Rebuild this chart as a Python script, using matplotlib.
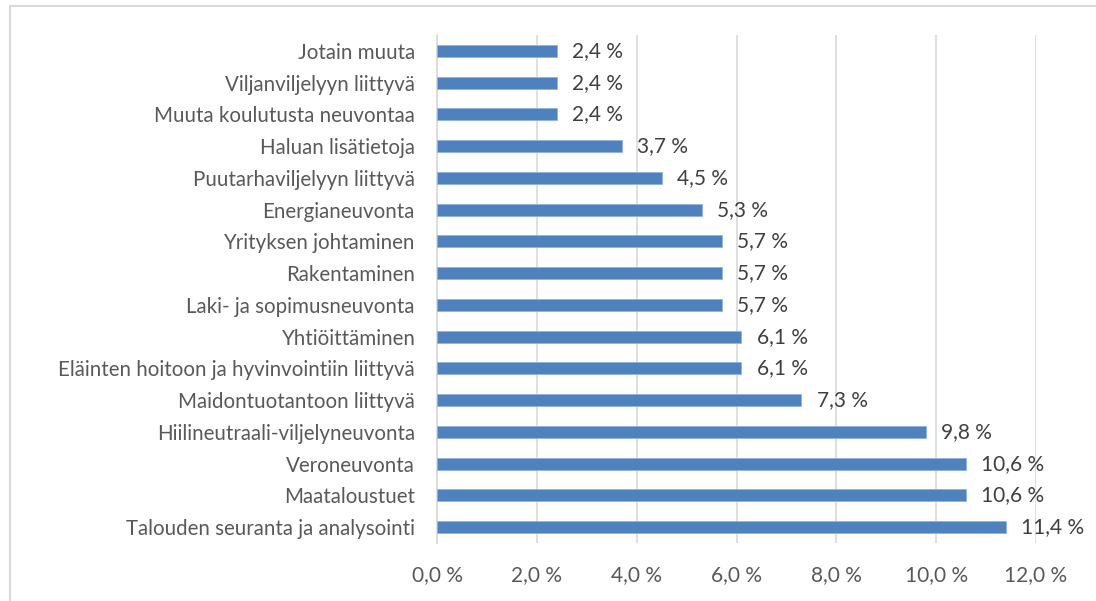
import matplotlib
matplotlib.use("Agg")
import matplotlib.pyplot as plt
from matplotlib.patches import Rectangle
from matplotlib.ticker import FuncFormatter

categories = [
    "Jotain muuta",
    "Viljanviljelyyn liittyvä",
    "Muuta koulutusta neuvontaa",
    "Haluan lisätietoja",
    "Puutarhaviljelyyn liittyvä",
    "Energianeuvonta",
    "Yrityksen johtaminen",
    "Rakentaminen",
    "Laki- ja sopimusneuvonta",
    "Yhtiöittäminen",
    "Eläinten hoitoon ja hyvinvointiin liittyvä",
    "Maidontuotantoon liittyvä",
    "Hiilineutraali-viljelyneuvonta",
    "Veroneuvonta",
    "Maataloustuet",
    "Talouden seuranta ja analysointi",
]
values = [2.4, 2.4, 2.4, 3.7, 4.5, 5.3, 5.7, 5.7, 5.7, 6.1, 6.1, 7.3, 9.8, 10.6, 10.6, 11.4]
xticks = [0, 2, 4, 6, 8, 10, 12]

plt.rcParams['font.family'] = ['Lato', 'DejaVu Sans']

W, H = 1096, 601
fig = plt.figure(figsize=(W / 100, H / 100), dpi=100)
fig.patch.set_facecolor('white')

# chart border (extends past right and bottom edges)
fig.patches.append(Rectangle((10 / W, -0.2), 1.2, 1.2 - 6 / H, transform=fig.transFigure,
                             fill=False, edgecolor='#D9D9D9', linewidth=1.5))

left, right, top, bottom = 437, 1036, 35, 543
ax = fig.add_axes([left / W, 1 - bottom / H, (right - left) / W, (bottom - top) / H])

pos = list(range(len(categories)))
ax.barh(pos, values, height=0.385, color='#4F81BD', edgecolor='#8EB4E3', linewidth=0.6, zorder=3)
ax.set_ylim(len(categories) - 0.5, -0.5)
ax.set_xlim(0, 12)
ax.set_yticks(pos)
ax.set_yticklabels(categories, fontsize=14.8, color='#595959')
ax.set_xticks(xticks)
ax.xaxis.set_major_formatter(FuncFormatter(lambda v, p: f"{v:.1f} %".replace('.', ',')))
ax.tick_params(axis='x', labelsize=15, labelcolor='#595959', length=0, pad=16)
ax.tick_params(axis='y', length=0, pad=16)

for s in ['top', 'right', 'bottom']:
    ax.spines[s].set_visible(False)
ax.spines['left'].set_color('#D9D9D9')
ax.spines['left'].set_linewidth(1.2)
ax.grid(axis='x', color='#D9D9D9', linewidth=1.2, zorder=0)
ax.set_axisbelow(True)

for p, v in zip(pos, values):
    ax.annotate(f"{v:.1f} %".replace('.', ','), (v, p), xytext=(11, 0), textcoords='offset points',
                va='center', ha='left', fontsize=15, color='#404040')

fig.savefig('out.png', dpi=100, facecolor='white')
